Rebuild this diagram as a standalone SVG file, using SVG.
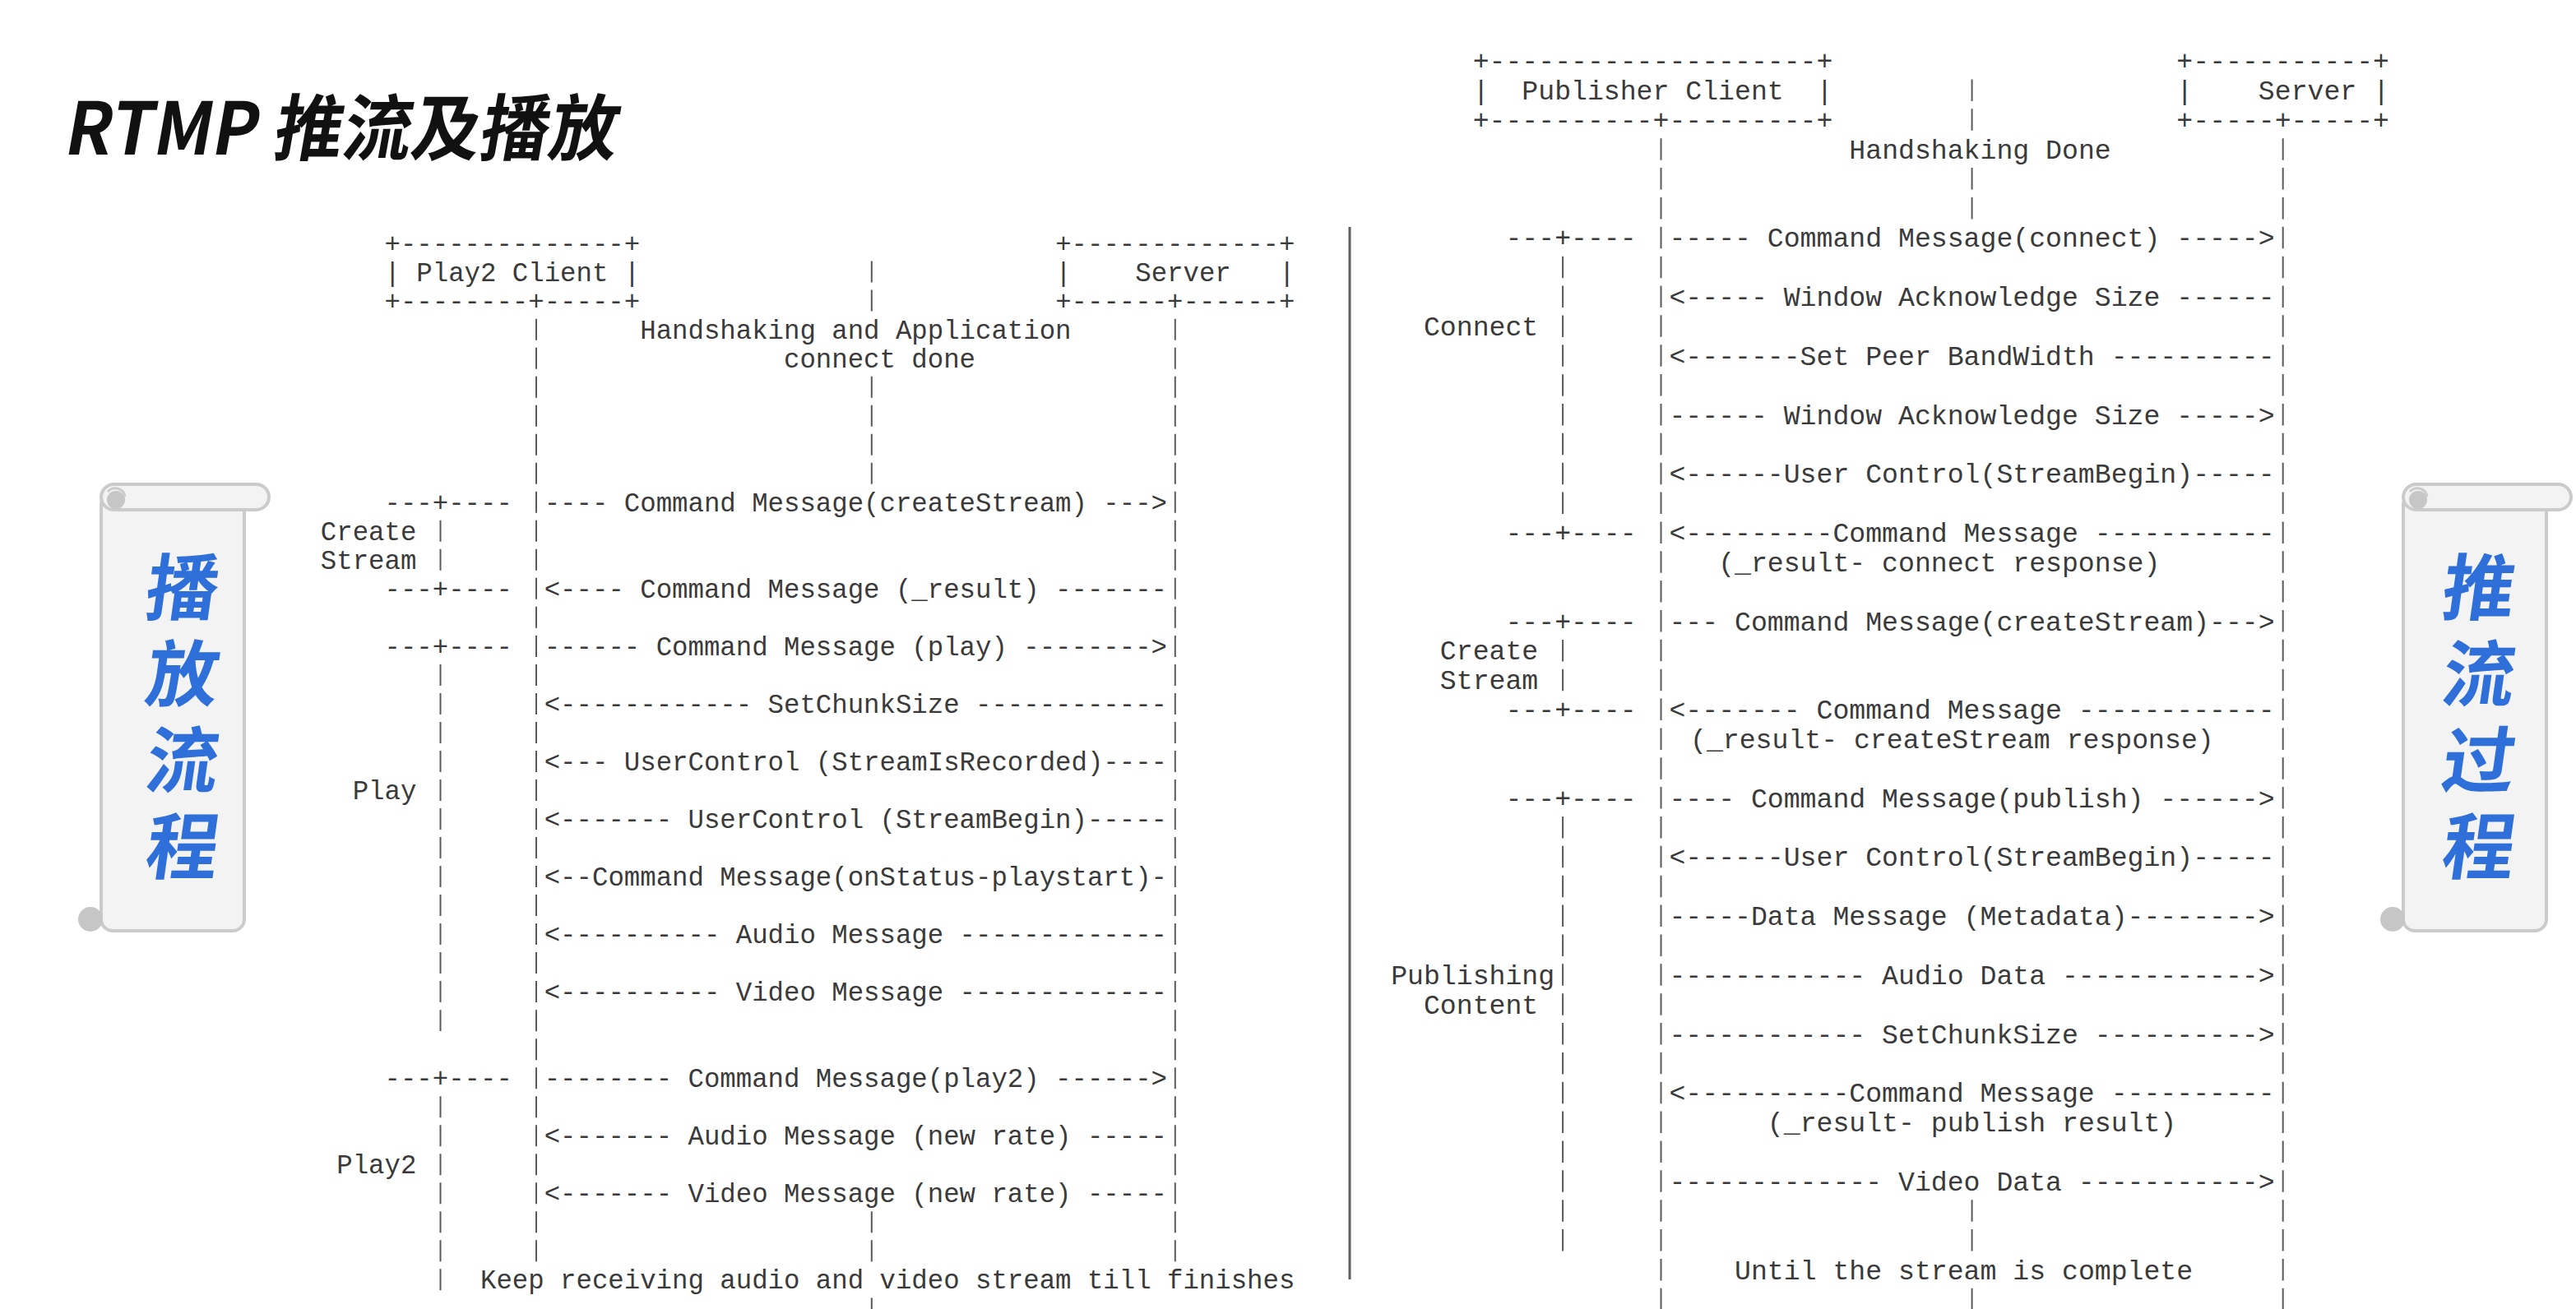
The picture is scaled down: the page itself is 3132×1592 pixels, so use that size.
<svg xmlns="http://www.w3.org/2000/svg" width="3132" height="1592" viewBox="0 0 3132 1592">
<style>
.mono{font-family:"Liberation Mono","DejaVu Sans Mono",monospace;fill:#3a3a3a}
.l{font-size:32.37px}
.r{font-size:33.17px}
.life{stroke:#5a5a5a;stroke-width:2;fill:none}
.ll{stroke-dasharray:26 9.02}
.lr{stroke-dasharray:26.5 9.36}
.cjk{font-family:"Noto Sans CJK SC","Noto Sans",sans-serif;font-weight:700}
.scrolltxt{font-size:88px;fill:#2f6fd9;text-anchor:middle}
.paper{fill:#f3f3f3;stroke:#cbcbcb;stroke-width:4}
.curl{fill:#c6c6c6}
</style>
<rect width="3132" height="1592" fill="#ffffff"/>

<g id="title">
<text class="cjk" font-size="88" fill="#111111" transform="translate(76,188) skewX(-10) scale(0.95,1)">RTMP 推流及播放</text>
</g>

<defs>
<g id="scroll-shape">
<rect class="paper" x="123" y="600" width="174" height="532" rx="14"/>
<circle class="curl" cx="110" cy="1118" r="15"/>
<rect class="paper" x="123" y="589" width="204" height="31" rx="15.5"/>
<circle class="curl" cx="141" cy="608" r="11"/>
<path d="M131,598 A12,12 0 0 1 152,604" fill="none" stroke="#cbcbcb" stroke-width="3"/>
</g>
</defs>

<g id="scroll-play">
<use href="#scroll-shape"/>
<text class="cjk scrolltxt" transform="translate(218,747) skewX(-8)">播</text>
<text class="cjk scrolltxt" transform="translate(218,852) skewX(-8)">放</text>
<text class="cjk scrolltxt" transform="translate(218,957) skewX(-8)">流</text>
<text class="cjk scrolltxt" transform="translate(218,1062) skewX(-8)">程</text>
</g>

<g id="scroll-publish">
<use href="#scroll-shape" transform="translate(2799,0)"/>
<text class="cjk scrolltxt" transform="translate(3010,747) skewX(-8)">推</text>
<text class="cjk scrolltxt" transform="translate(3010,852) skewX(-8)">流</text>
<text class="cjk scrolltxt" transform="translate(3010,957) skewX(-8)">过</text>
<text class="cjk scrolltxt" transform="translate(3010,1062) skewX(-8)">程</text>
</g>

<line id="divider" x1="1641" y1="276" x2="1641" y2="1556" stroke="#5f5f5f" stroke-width="3"/>

<!-- ================= PLAY (left) ================= -->
<g id="play2-client" class="mono l">
<text x="467.51" y="306.6">+--------------+</text>
<text x="467.51" y="341.6">| Play2 Client |</text>
<text x="467.51" y="376.6">+--------+-----+</text>
</g>
<g id="server-play" class="mono l">
<text x="1283.15" y="306.6">+-------------+</text>
<text x="1283.15" y="341.6">|</text>
<text x="1380.25" y="341.6">Server</text>
<text x="1555.03" y="341.6">|</text>
<text x="1283.15" y="376.6">+------+------+</text>
</g>
<g id="play-notes" class="mono l">
<text x="778.23" y="411.7">Handshaking and Application</text>
<text x="953.01" y="446.7">connect done</text>
<text x="584.03" y="1567.3">Keep receiving audio and video stream till finishes</text>
</g>
<g id="phase-create-stream-play" class="mono l">
<text x="389.83" y="656.8">Create</text>
<text x="389.83" y="691.8">Stream</text>
<text x="467.51" y="621.8">---+----</text>
<text x="467.51" y="726.8">---+----</text>
</g>
<g id="phase-play" class="mono l">
<text x="428.67" y="972.0">Play</text>
<text x="467.51" y="796.9">---+----</text>
</g>
<g id="phase-play2" class="mono l">
<text x="409.25" y="1427.2">Play2</text>
<text x="467.51" y="1322.2">---+----</text>
</g>

<g id="connectors-play">
<g class="life ll">
<line x1="652" y1="387.66" x2="652" y2="1534.3"/>
<line x1="1428.8" y1="387.66" x2="1428.8" y2="1534.3"/>
<line x1="535.5" y1="632.8" x2="535.5" y2="693.8"/>
<line x1="535.5" y1="807.9" x2="535.5" y2="1254.1"/>
<line x1="535.5" y1="1333.2" x2="535.5" y2="1569.3"/>
<line x1="1059.8" y1="317.6" x2="1059.8" y2="378.6"/>
<line x1="1059.8" y1="457.7" x2="1059.8" y2="588.8"/>
<line x1="1059.8" y1="1473.3" x2="1059.8" y2="1534.3"/>
<line x1="1059.8" y1="1578.3" x2="1059.8" y2="1604.3"/>
</g>
<g class="mono l">
<text x="661.71" y="621.8">---- Command Message(createStream) ---&gt;</text>
<text x="661.71" y="726.8">&lt;---- Command Message (_result) -------</text>
<text x="661.71" y="796.9">------ Command Message (play) --------&gt;</text>
<text x="661.71" y="866.9">&lt;------------ SetChunkSize ------------</text>
<text x="661.71" y="937.0">&lt;--- UserControl (StreamIsRecorded)----</text>
<text x="661.71" y="1007.0">&lt;------- UserControl (StreamBegin)-----</text>
<text x="661.71" y="1077.0">&lt;--Command Message(onStatus-playstart)-</text>
<text x="661.71" y="1147.1">&lt;---------- Audio Message -------------</text>
<text x="661.71" y="1217.1">&lt;---------- Video Message -------------</text>
<text x="661.71" y="1322.2">-------- Command Message(play2) ------&gt;</text>
<text x="661.71" y="1392.2">&lt;------- Audio Message (new rate) -----</text>
<text x="661.71" y="1462.3">&lt;------- Video Message (new rate) -----</text>
</g>
</g>

<!-- ================= PUBLISH (right) ================= -->
<g id="publisher-client" class="mono r">
<text x="1790.65" y="85.2">+--------------------+</text>
<text x="1790.65" y="121.1">|</text>
<text x="1850.35" y="121.1">Publisher Client</text>
<text x="2208.55" y="121.1">|</text>
<text x="1790.65" y="156.9">+----------+---------+</text>
</g>
<g id="server-publish" class="mono r">
<text x="2646.35" y="85.2">+-----------+</text>
<text x="2646.35" y="121.1">|</text>
<text x="2745.85" y="121.1">Server</text>
<text x="2885.15" y="121.1">|</text>
<text x="2646.35" y="156.9">+-----+-----+</text>
</g>
<g id="publish-notes" class="mono r">
<text x="2248.35" y="192.8">Handshaking Done</text>
<text x="2109.05" y="1555.5">Until the stream is complete</text>
</g>
<g id="phase-connect" class="mono r">
<text x="1730.95" y="407.9">Connect</text>
<text x="1830.45" y="300.4">---+----</text>
<text x="1830.45" y="659.0">---+----</text>
</g>
<g id="phase-create-stream-publish" class="mono r">
<text x="1750.85" y="802.4">Create</text>
<text x="1750.85" y="838.3">Stream</text>
<text x="1830.45" y="766.5">---+----</text>
<text x="1830.45" y="874.1">---+----</text>
</g>
<g id="phase-publishing-content" class="mono r">
<text x="1691.15" y="1196.9">Publishing</text>
<text x="1730.95" y="1232.7">Content</text>
<text x="1830.45" y="981.7">---+----</text>
</g>

<g id="connectors-publish">
<g class="life lr">
<line x1="2019.5" y1="168.2" x2="2019.5" y2="1593.3"/>
<line x1="2775.7" y1="168.2" x2="2775.7" y2="1593.3"/>
<line x1="1900.1" y1="311.7" x2="1900.1" y2="625.1"/>
<line x1="1900.1" y1="777.9" x2="1900.1" y2="840.2"/>
<line x1="1900.1" y1="993.0" x2="1900.1" y2="1521.6"/>
<line x1="2397.6" y1="96.5" x2="2397.6" y2="158.9"/>
<line x1="2397.6" y1="204.1" x2="2397.6" y2="266.5"/>
<line x1="2397.6" y1="1459.2" x2="2397.6" y2="1521.6"/>
<line x1="2397.6" y1="1566.8" x2="2397.6" y2="1593.3"/>
</g>
<g class="mono r">
<text x="2029.45" y="300.4">----- Command Message(connect) -----&gt;</text>
<text x="2029.45" y="372.1">&lt;----- Window Acknowledge Size ------</text>
<text x="2029.45" y="443.8">&lt;-------Set Peer BandWidth ----------</text>
<text x="2029.45" y="515.5">------ Window Acknowledge Size -----&gt;</text>
<text x="2029.45" y="587.2">&lt;------User Control(StreamBegin)-----</text>
<text x="2029.45" y="659.0">&lt;---------Command Message -----------</text>
<text x="2089.15" y="694.8">(_result- connect response)</text>
<text x="2029.45" y="766.5">--- Command Message(createStream)---&gt;</text>
<text x="2029.45" y="874.1">&lt;------- Command Message ------------</text>
<text x="2055" y="910.0">(_result- createStream response)</text>
<text x="2029.45" y="981.7">---- Command Message(publish) ------&gt;</text>
<text x="2029.45" y="1053.4">&lt;------User Control(StreamBegin)-----</text>
<text x="2029.45" y="1125.1">-----Data Message (Metadata)--------&gt;</text>
<text x="2029.45" y="1196.9">------------ Audio Data ------------&gt;</text>
<text x="2029.45" y="1268.6">------------ SetChunkSize ----------&gt;</text>
<text x="2029.45" y="1340.3">&lt;----------Command Message ----------</text>
<text x="2148.85" y="1376.2">(_result- publish result)</text>
<text x="2029.45" y="1447.9">------------- Video Data -----------&gt;</text>
</g>
</g>
</svg>
